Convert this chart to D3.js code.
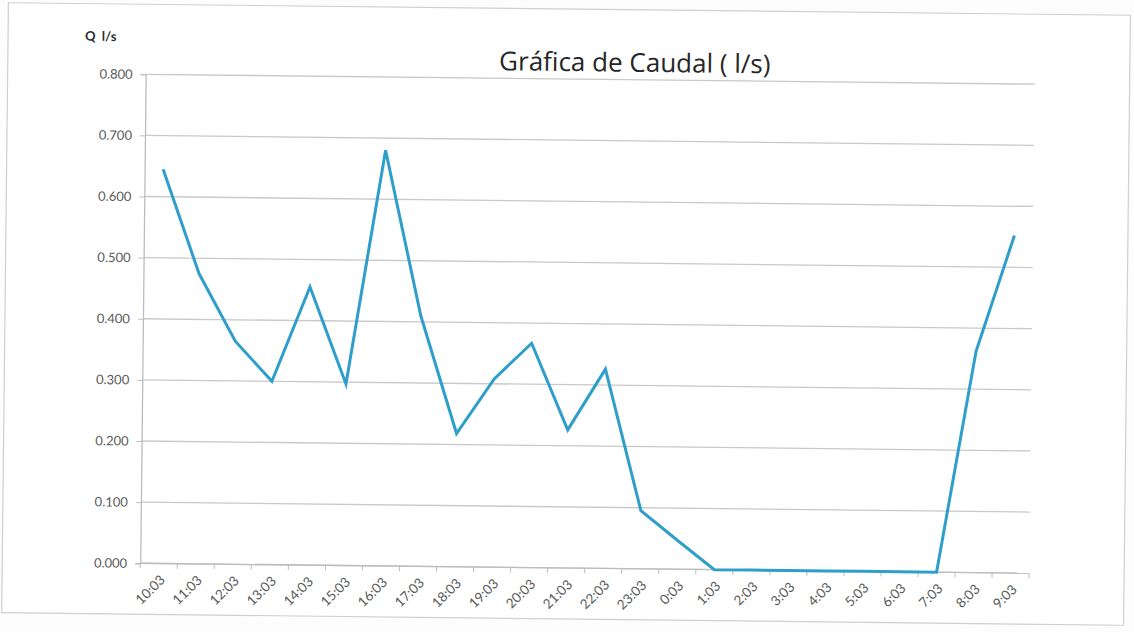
<!DOCTYPE html>
<html>
<head>
<meta charset="utf-8">
<script src="https://cdn.jsdelivr.net/npm/d3@7"></script>
<style>
    body { margin: 0; background: #fdfdfd; }
    svg { display: block; }
</style>
</head>
<body>
<div class="js-chart"></div>
<script>
'use strict';

//hours of the reading, one per column
var hours = ['10:03', '11:03', '12:03', '13:03', '14:03', '15:03', '16:03', '17:03',
    '18:03', '19:03', '20:03', '21:03', '22:03', '23:03', '0:03', '1:03', '2:03',
    '3:03', '4:03', '5:03', '6:03', '7:03', '8:03', '9:03'];

//caudal in l/s
var caudal = [0.645, 0.475, 0.365, 0.300, 0.455, 0.297, 0.680, 0.410,
    0.218, 0.308, 0.367, 0.226, 0.326, 0.095, 0.047, 0.000, 0.000,
    0.000, 0.000, 0.000, 0.000, 0.000, 0.362, 0.552];

var yTicks = [0, 0.1, 0.2, 0.3, 0.4, 0.5, 0.6, 0.7, 0.8];

var dim = { w: 1134, h: 632 };
var margin = { top: 79, right: 102, bottom: 64, left: 143 };

var svg = d3.select('.js-chart')
    .append('svg')
    .attr('width', dim.w)
    .attr('height', dim.h);

//the scan is a little tilted, so tilt everything the same way
var page = svg.append('g')
    .attr('transform', 'rotate(0.64 567 316)');

//frame of the scanned sheet
page.append('rect')
    .attr('x', 5)
    .attr('y', 9)
    .attr('width', 1122)
    .attr('height', 610)
    .style('fill', '#ffffff')
    .style('stroke', '#cfcfcf')
    .style('stroke-width', 1.2);

var x = d3.scaleBand()
    .domain(hours)
    .range([margin.left, dim.w - margin.right]);

var y = d3.scaleLinear()
    .domain([0, 0.8])
    .range([dim.h - margin.bottom, margin.top]);

//horizontal gridlines
page.append('g')
    .selectAll('line')
    .data(yTicks)
    .enter()
    .append('line')
    .attr('x1', margin.left)
    .attr('x2', dim.w - margin.right)
    .attr('y1', function (d) { return y(d); })
    .attr('y2', function (d) { return y(d); })
    .style('stroke', '#c9c9c9')
    .style('stroke-width', 1.3);

//y axis with its labels
var yAxis = page.append('g')
    .attr('transform', 'translate(' + margin.left + ',0)')
    .call(d3.axisLeft(y)
        .tickValues(yTicks)
        .tickFormat(d3.format('.3f'))
        .tickSize(5)
        .tickPadding(8));
yAxis.select('.domain').style('stroke', '#bdbdbd').style('stroke-width', 1.3);
yAxis.selectAll('.tick line').style('stroke', '#bdbdbd');
yAxis.selectAll('text')
    .style('font-family', 'Lato, "Open Sans", sans-serif')
    .style('font-size', '13px')
    .style('fill', '#5a5a5a');

//x axis, ticks between the columns
var xAxis = page.append('g')
    .attr('transform', 'translate(0,' + y(0) + ')');
xAxis.append('line')
    .attr('x1', margin.left)
    .attr('x2', dim.w - margin.right)
    .style('stroke', '#bdbdbd')
    .style('stroke-width', 1.3);
xAxis.selectAll('.js-tick')
    .data(hours.concat(['end']))
    .enter()
    .append('line')
    .attr('class', 'js-tick')
    .attr('x1', function (d, i) { return margin.left + i * x.step(); })
    .attr('x2', function (d, i) { return margin.left + i * x.step(); })
    .attr('y1', 0)
    .attr('y2', 5)
    .style('stroke', '#bdbdbd');
xAxis.selectAll('text')
    .data(hours)
    .enter()
    .append('text')
    .text(function (d) { return d; })
    .attr('transform', function (d) {
        return 'translate(' + (x(d) + x.bandwidth() / 2 + 4) + ',14) rotate(-45)';
    })
    .attr('text-anchor', 'end')
    .attr('dy', '0.35em')
    .style('font-family', 'Lato, "Open Sans", sans-serif')
    .style('font-size', '13.5px')
    .style('fill', '#5a5a5a');

//the caudal line
var line = d3.line()
    .x(function (d, i) { return x(hours[i]) + x.bandwidth() / 2; })
    .y(function (d) { return y(d); });

page.append('path')
    .datum(caudal)
    .attr('d', line)
    .style('fill', 'none')
    .style('stroke', '#2f9ecb')
    .style('stroke-width', 3)
    .style('stroke-linejoin', 'miter');

//title and unit label
page.append('text')
    .text('Gráfica de Caudal ( l/s)')
    .attr('x', 632)
    .attr('y', 71)
    .attr('text-anchor', 'middle')
    .style('font-family', '"Open Sans", Lato, sans-serif')
    .style('font-size', '26px')
    .style('fill', '#262626');

page.append('text')
    .text('Q\u00a0\u00a0l/s')
    .attr('x', 82)
    .attr('y', 46)
    .style('font-family', 'Lato, "Open Sans", sans-serif')
    .style('font-size', '13px')
    .style('font-weight', 'bold')
    .style('fill', '#2b2b2b');
</script>
</body>
</html>
